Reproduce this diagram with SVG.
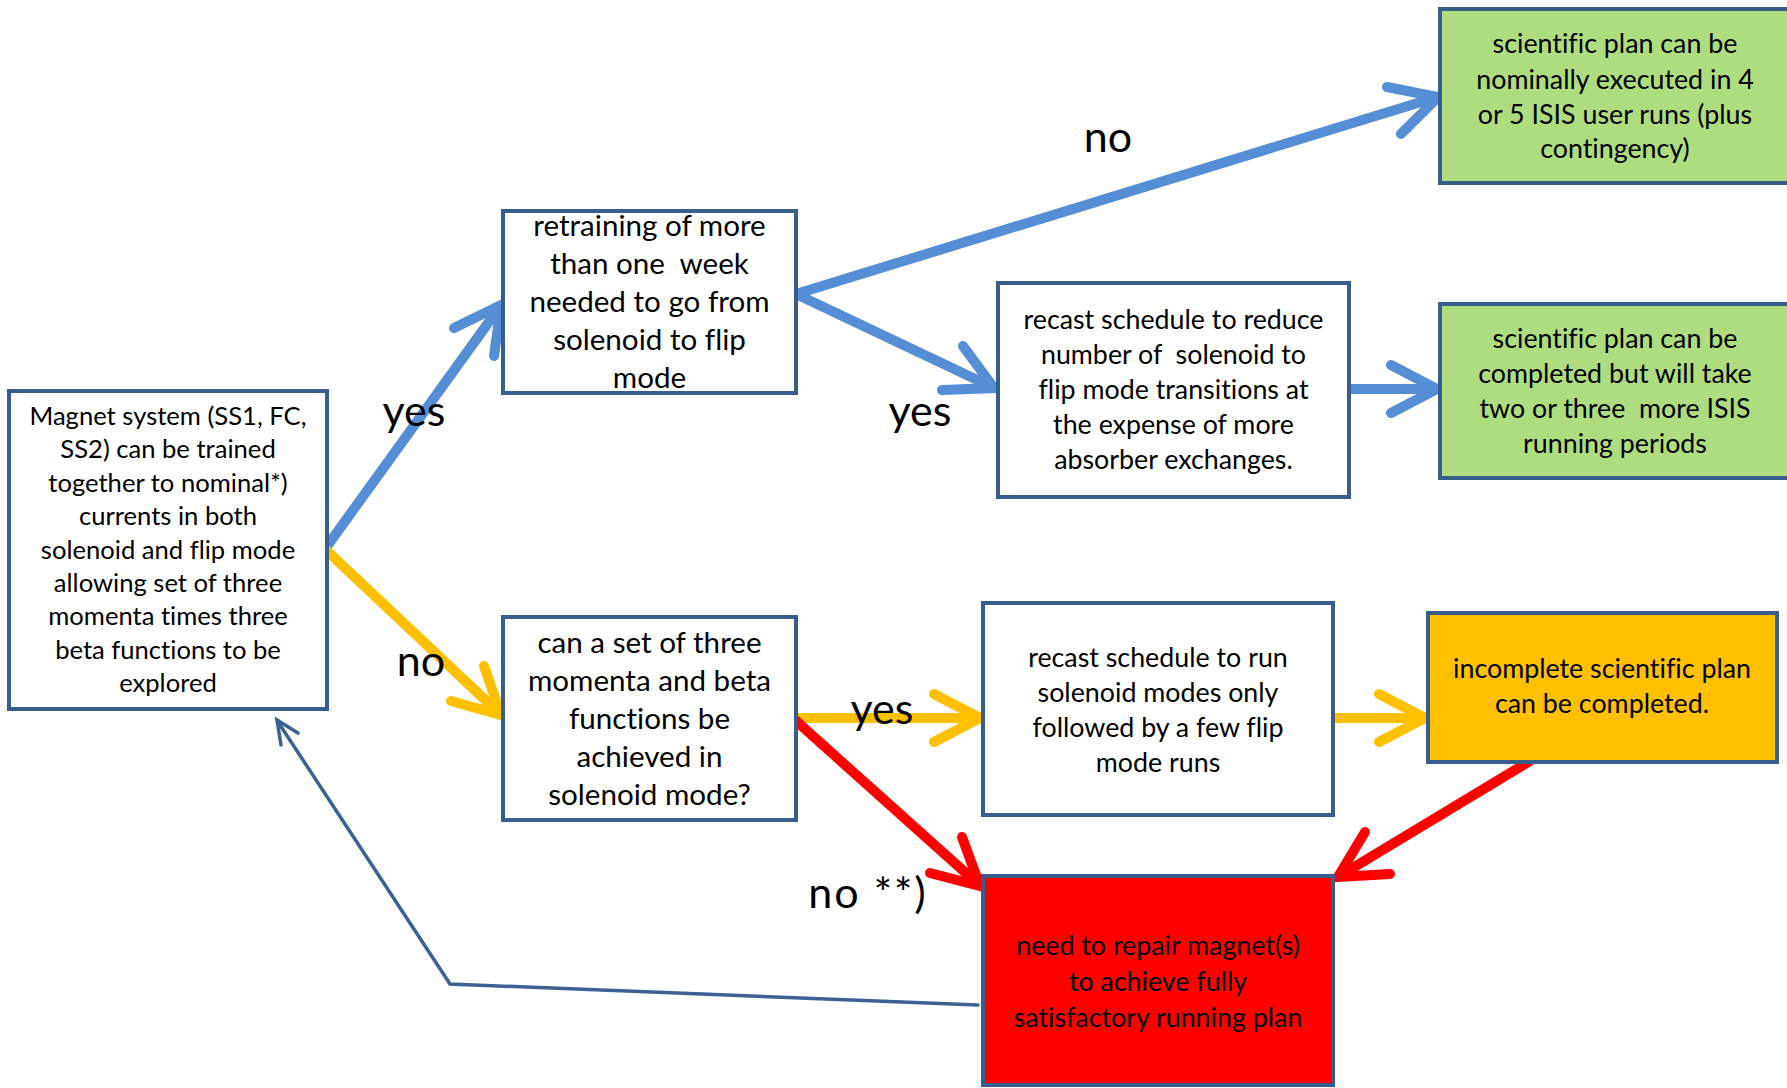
<svg xmlns="http://www.w3.org/2000/svg" width="1787" height="1088" viewBox="0 0 1787 1088">
<style>
.box{stroke:#385D8A;stroke-width:4}
.t{font-family:Lato,"Open Sans",sans-serif;text-anchor:middle;fill:#000;white-space:pre;font-variant-ligatures:none}
.s1{font-size:25.6px}
.s2{font-size:29.6px}
.s3{font-size:26.8px}
.lbl{font-family:Lato,"Open Sans",sans-serif;text-anchor:middle;fill:#000;font-size:43px}
.blue{stroke:#558ED5;stroke-width:10;fill:none;stroke-linecap:round}
.yel{stroke:#FFC000;stroke-width:10;fill:none;stroke-linecap:round}
.red{stroke:#FF0000;stroke-width:10;fill:none;stroke-linecap:round}
.ret{stroke:#3D6190;stroke-width:3.5;fill:none;stroke-linecap:round}
</style>
<rect width="1787" height="1088" fill="#fff"/>
<g id="connectors">
<path class="blue" d="M325,549 L499,308"/>
<path class="blue" d="M454,328 L501,305 L494,356"/>
<path class="yel" d="M325,549 L498,712"/>
<path class="yel" d="M484,666 L501,715 L451,701"/>
<path class="blue" d="M796,294 L1434,98"/>
<path class="blue" d="M1387,87 L1438,97 L1401,134"/>
<path class="blue" d="M796,294 L990,386"/>
<path class="blue" d="M963,346 L994,388 L942,390"/>
<path class="blue" d="M1351,389 L1433,389"/>
<path class="blue" d="M1391,365 L1437,389 L1391,413"/>
<path class="yel" d="M797,718 L976,718"/>
<path class="yel" d="M934,694 L980,718 L934,742"/>
<path class="yel" d="M1335,718 L1421,718"/>
<path class="yel" d="M1379,694 L1425,718 L1379,742"/>
<path class="red" d="M795,720 L977,883"/>
<path class="red" d="M962,837 L980,886 L930,873"/>
<path class="red" d="M1530,761 L1341,875"/>
<path class="red" d="M1390,874 L1338,877 L1365,832"/>
<path class="ret" d="M978,1005 L450,984 L278,722"/>
<path class="ret" d="M281,745 L277,720 L298,733"/>
</g>
<g id="n1">
<rect class="box" x="9" y="391" width="318" height="318" fill="#fff"/>
<text class="t s1" x="168" y="425">Magnet system (SS1, FC,</text>
<text class="t s1" x="168" y="458">SS2) can be trained</text>
<text class="t s1" x="168" y="492">together to nominal*)</text>
<text class="t s1" x="168" y="525">currents in both</text>
<text class="t s1" x="168" y="559">solenoid and flip mode</text>
<text class="t s1" x="168" y="592">allowing set of three</text>
<text class="t s1" x="168" y="625">momenta times three</text>
<text class="t s1" x="168" y="659">beta functions to be</text>
<text class="t s1" x="168" y="692">explored</text>
</g>
<g id="n2">
<rect class="box" x="503" y="211" width="293" height="182" fill="#fff"/>
<text class="t s2" x="649.5" y="236">retraining of more</text>
<text class="t s2" x="649.5" y="274">than one  week</text>
<text class="t s2" x="649.5" y="312">needed to go from</text>
<text class="t s2" x="649.5" y="350">solenoid to flip</text>
<text class="t s2" x="649.5" y="388">mode</text>
</g>
<g id="n3">
<rect class="box" x="998" y="283" width="351" height="214" fill="#fff"/>
<text class="t s3" x="1173.5" y="329">recast schedule to reduce</text>
<text class="t s3" x="1173.5" y="364">number of  solenoid to</text>
<text class="t s3" x="1173.5" y="399">flip mode transitions at</text>
<text class="t s3" x="1173.5" y="434">the expense of more</text>
<text class="t s3" x="1173.5" y="469">absorber exchanges.</text>
</g>
<g id="n4">
<rect class="box" x="1440" y="9" width="352" height="174" fill="#AFDC7E"/>
<text class="t s3" x="1615" y="53">scientific plan can be</text>
<text class="t s3" x="1615" y="89">nominally executed in 4</text>
<text class="t s3" x="1615" y="124">or 5 ISIS user runs (plus</text>
<text class="t s3" x="1615" y="158">contingency)</text>
</g>
<g id="n5">
<rect class="box" x="1440" y="304" width="352" height="174" fill="#AFDC7E"/>
<text class="t s3" x="1615" y="348">scientific plan can be</text>
<text class="t s3" x="1615" y="383">completed but will take</text>
<text class="t s3" x="1615" y="418">two or three  more ISIS</text>
<text class="t s3" x="1615" y="453">running periods</text>
</g>
<g id="n6">
<rect class="box" x="503" y="617" width="293" height="203" fill="#fff"/>
<text class="t s2" x="649.5" y="653">can a set of three</text>
<text class="t s2" x="649.5" y="691">momenta and beta</text>
<text class="t s2" x="649.5" y="729">functions be</text>
<text class="t s2" x="649.5" y="767">achieved in</text>
<text class="t s2" x="649.5" y="805">solenoid mode?</text>
</g>
<g id="n7">
<rect class="box" x="983" y="603" width="350" height="212" fill="#fff"/>
<text class="t s3" x="1158" y="667">recast schedule to run</text>
<text class="t s3" x="1158" y="702">solenoid modes only</text>
<text class="t s3" x="1158" y="737">followed by a few flip</text>
<text class="t s3" x="1158" y="772">mode runs</text>
</g>
<g id="n8">
<rect class="box" x="1428" y="613" width="349" height="149" fill="#FFC000"/>
<text class="t s3" x="1602" y="678">incomplete scientific plan</text>
<text class="t s3" x="1602" y="713">can be completed.</text>
</g>
<g id="n9">
<rect class="box" x="983" y="876" width="350" height="209" fill="#FF0000"/>
<text class="t s3" x="1158" y="955">need to repair magnet(s)</text>
<text class="t s3" x="1158" y="991">to achieve fully</text>
<text class="t s3" x="1158" y="1027">satisfactory running plan</text>
</g>
<g id="labels">
<text class="lbl" x="414" y="426">yes</text>
<text class="lbl" x="920" y="426">yes</text>
<text class="lbl" x="1108" y="152">no</text>
<text class="lbl" x="421" y="676">no</text>
<text class="lbl" x="882" y="724">yes</text>
<text class="lbl" x="868" y="908" letter-spacing="2">no **)</text>
</g>
</svg>
